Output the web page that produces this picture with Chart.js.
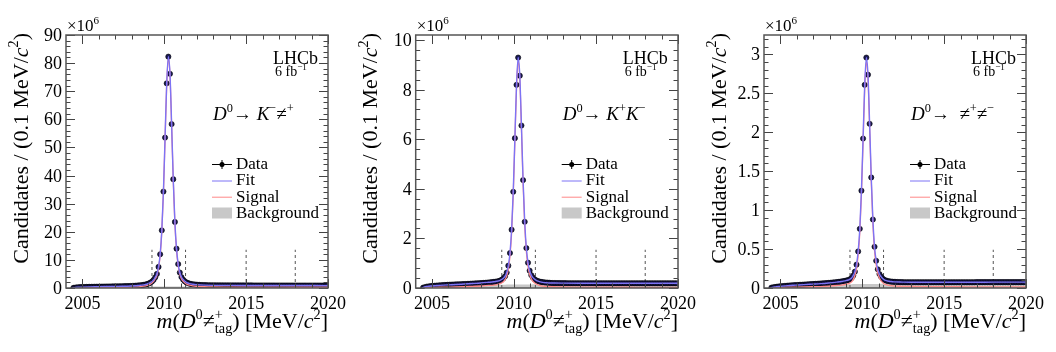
<!DOCTYPE html>
<html>
<head>
<meta charset="utf-8">
<script src="https://cdn.jsdelivr.net/npm/chart.js@4.4.1/dist/chart.umd.min.js"></script>
<style>
  body { margin: 0; background: #fff; width: 1056px; height: 352px; overflow: hidden; position: relative; }
  canvas { position: absolute; top: 0; }
</style>
</head>
<body>
<canvas id="c1" width="350" height="352" style="left:0px;width:350px;height:352px"></canvas>
<canvas id="c2" width="350" height="352" style="left:350px;width:350px;height:352px"></canvas>
<canvas id="c3" width="356" height="352" style="left:700px;width:356px;height:352px"></canvas>
<script>
// bins of 0.1 MeV, first centre at 2004.45
const binStart = 2004.45, binWidth = 0.1;
const xMin = 2004, xMax = 2020;
const xMajorTicks = [2005, 2010, 2015, 2020];
const dashX = [2009.25, 2011.3, 2015, 2018];
const legendLabels = ['Data', 'Fit', 'Signal', 'Background'];

// data points (x10^6 candidates per bin)
const dataKpi = [0.05,
  0.12,0.20,0.25,0.29,0.32,0.34,0.36,0.38,0.39,0.41,
  0.42,0.43,0.44,0.45,0.46,0.47,0.48,0.49,0.50,0.51,
  0.52,0.53,0.54,0.55,0.56,0.57,0.58,0.60,0.61,0.62,
  0.64,0.66,0.68,0.70,0.72,0.75,0.78,0.82,0.86,0.91,
  0.97,1.04,1.13,1.25,1.40,1.60,1.90,2.3,2.9,3.8,
  5.0,7.5,12.0,20.5,34.3,53.5,72.8,82.3,76.2,58.3,
  38.7,23.5,14.0,8.5,5.5,3.9,3.0,2.4,2.0,1.75,
  1.55,1.42,1.32,1.25,1.19,1.14,1.10,1.07,1.04,1.02,
  1.00,0.98,0.97,0.96,0.95,0.95,0.94,0.94,0.93,0.93,
  0.93,0.92,0.92,0.92,0.92,0.91,0.91,0.91,0.91,0.91,
  0.91,0.90,0.90,0.90,0.90,0.90,0.90,0.90,0.90,0.89,
  0.89,0.89,0.89,0.89,0.89,0.89,0.89,0.89,0.89,0.89,
  0.89,0.89,0.88,0.88,0.88,0.88,0.88,0.88,0.88,0.88,
  0.88,0.88,0.88,0.87,0.87,0.87,0.87,0.87,0.87,0.87,
  0.87,0.87,0.87,0.87,0.87,0.87,0.87,0.87,0.87,0.87,
  0.87,0.86,0.86,0.86,0.86];
const dataKK = [0.015,
  0.03,0.05,0.06,0.07,0.08,0.085,0.09,0.095,0.10,0.105,
  0.11,0.115,0.12,0.124,0.128,0.131,0.134,0.137,0.14,0.143,
  0.146,0.149,0.152,0.155,0.158,0.161,0.164,0.168,0.172,0.176,
  0.18,0.184,0.188,0.192,0.196,0.20,0.205,0.21,0.215,0.222,
  0.23,0.236,0.243,0.252,0.262,0.277,0.30,0.335,0.39,0.47,
  0.62,0.90,1.41,2.35,3.88,6.04,8.19,9.29,8.56,6.55,
  4.35,2.67,1.61,1.02,0.70,0.52,0.42,0.35,0.31,0.28,
  0.26,0.245,0.235,0.225,0.22,0.215,0.21,0.205,0.20,0.20,
  0.198,0.197,0.196,0.195,0.194,0.193,0.193,0.192,0.192,0.192,
  0.191,0.191,0.191,0.191,0.191,0.191,0.191,0.191,0.191,0.191,
  0.191,0.191,0.191,0.190,0.190,0.190,0.190,0.190,0.190,0.190,
  0.190,0.190,0.190,0.190,0.190,0.190,0.190,0.190,0.190,0.190,
  0.190,0.190,0.190,0.190,0.190,0.190,0.190,0.190,0.190,0.190,
  0.190,0.190,0.190,0.190,0.190,0.190,0.190,0.190,0.190,0.190,
  0.190,0.190,0.190,0.190,0.190,0.190,0.190,0.190,0.190,0.190,
  0.190,0.190,0.190,0.190,0.190];
const dataPiPi = [0.004,
  0.008,0.012,0.015,0.018,0.020,0.022,0.024,0.026,0.028,0.030,
  0.031,0.033,0.034,0.036,0.037,0.038,0.040,0.041,0.042,0.044,
  0.045,0.046,0.048,0.049,0.050,0.052,0.053,0.054,0.056,0.057,
  0.059,0.060,0.062,0.063,0.065,0.067,0.069,0.071,0.073,0.076,
  0.078,0.081,0.084,0.088,0.092,0.097,0.103,0.112,0.128,0.16,
  0.21,0.30,0.47,0.76,1.25,1.92,2.61,2.96,2.74,2.11,
  1.42,0.88,0.53,0.35,0.24,0.18,0.145,0.12,0.105,0.096,
  0.090,0.086,0.083,0.081,0.079,0.078,0.077,0.076,0.075,0.075,
  0.074,0.074,0.074,0.074,0.074,0.074,0.074,0.074,0.074,0.074,
  0.074,0.074,0.074,0.074,0.074,0.074,0.074,0.074,0.074,0.074,
  0.074,0.074,0.074,0.074,0.074,0.074,0.074,0.074,0.074,0.074,
  0.074,0.074,0.074,0.074,0.074,0.074,0.074,0.074,0.074,0.074,
  0.074,0.074,0.074,0.074,0.075,0.075,0.075,0.075,0.075,0.075,
  0.075,0.075,0.075,0.075,0.075,0.075,0.075,0.075,0.075,0.075,
  0.075,0.075,0.075,0.075,0.075,0.075,0.075,0.075,0.075,0.075,
  0.075,0.075,0.075,0.075,0.075];

// fit components, sampled at these masses
const curveX = [2004.4,2004.5,2004.7,2004.95,2005.45,2005.95,2006.45,2006.95,2007.45,2007.95,
  2008.45,2008.75,2008.95,2009.15,2009.35,2009.45,2009.55,2009.65,2009.75,2009.85,
  2009.95,2010.05,2010.15,2010.25,2010.35,2010.45,2010.55,2010.65,2010.75,2010.85,
  2010.95,2011.05,2011.15,2011.35,2011.55,2011.75,2011.95,2012.45,2012.95,2014,
  2015,2016,2017,2018,2019,2020];

const fitKpi = [0,0.12,0.25,0.32,0.41,0.46,0.51,0.56,0.62,0.72,
  0.91,1.13,1.40,1.90,2.9,3.8,5.0,7.5,12.0,20.5,
  34.3,53.5,72.8,82.3,76.2,58.3,38.7,23.5,14.0,8.5,
  5.5,3.9,3.0,2.0,1.55,1.32,1.19,1.02,0.95,0.92,
  0.90,0.89,0.88,0.87,0.87,0.86];
const bkgKpi = [0,0.08,0.17,0.22,0.30,0.35,0.39,0.42,0.45,0.47,
  0.49,0.50,0.51,0.52,0.52,0.53,0.53,0.53,0.53,0.54,
  0.54,0.54,0.54,0.54,0.55,0.55,0.55,0.55,0.55,0.55,
  0.55,0.56,0.56,0.56,0.56,0.56,0.57,0.57,0.58,0.58,
  0.59,0.59,0.60,0.60,0.60,0.60];
const sigKpi = [0,0.04,0.08,0.10,0.11,0.11,0.12,0.14,0.17,0.25,
  0.42,0.63,0.89,1.38,2.38,3.27,4.47,6.97,11.47,19.96,
  33.76,52.96,72.26,81.76,75.65,57.75,38.15,22.95,13.45,7.95,
  4.95,3.34,2.44,1.44,0.99,0.76,0.62,0.45,0.37,0.34,
  0.31,0.30,0.28,0.27,0.27,0.26];

const fitKK = [0,0.03,0.06,0.08,0.105,0.125,0.14,0.16,0.18,0.20,
  0.23,0.25,0.27,0.31,0.39,0.47,0.62,0.90,1.41,2.35,
  3.88,6.04,8.19,9.29,8.56,6.55,4.35,2.67,1.61,1.02,
  0.70,0.52,0.42,0.31,0.26,0.225,0.21,0.20,0.196,0.192,
  0.191,0.19,0.19,0.19,0.19,0.19];
const bkgKK = [0,0.02,0.04,0.055,0.075,0.09,0.10,0.11,0.115,0.12,
  0.125,0.13,0.13,0.135,0.135,0.135,0.14,0.14,0.14,0.14,
  0.14,0.14,0.14,0.14,0.14,0.145,0.145,0.145,0.145,0.145,
  0.145,0.145,0.15,0.15,0.15,0.15,0.15,0.15,0.155,0.155,
  0.16,0.16,0.16,0.165,0.165,0.165];
const sigKK = [0,0.01,0.02,0.025,0.03,0.035,0.04,0.05,0.065,0.08,
  0.105,0.12,0.14,0.175,0.255,0.335,0.48,0.76,1.27,2.21,
  3.74,5.90,8.05,9.15,8.42,6.405,4.205,2.525,1.465,0.875,
  0.555,0.375,0.27,0.16,0.11,0.075,0.06,0.05,0.041,0.037,
  0.031,0.03,0.03,0.025,0.025,0.025];

const fitPiPi = [0,0.008,0.015,0.02,0.03,0.037,0.044,0.05,0.056,0.065,
  0.076,0.084,0.092,0.103,0.128,0.16,0.21,0.30,0.47,0.76,
  1.25,1.92,2.61,2.96,2.74,2.11,1.42,0.88,0.53,0.35,
  0.24,0.18,0.145,0.105,0.09,0.083,0.079,0.076,0.074,0.074,
  0.074,0.074,0.074,0.075,0.075,0.075];
const bkgPiPi = [0,0.005,0.01,0.014,0.02,0.025,0.03,0.034,0.038,0.041,
  0.044,0.046,0.047,0.048,0.049,0.05,0.05,0.05,0.05,0.05,
  0.051,0.051,0.051,0.051,0.051,0.051,0.052,0.052,0.052,0.052,
  0.052,0.052,0.053,0.053,0.053,0.053,0.054,0.054,0.055,0.056,
  0.057,0.058,0.059,0.06,0.061,0.062];
const sigPiPi = [0,0.003,0.005,0.006,0.01,0.012,0.014,0.016,0.018,0.024,
  0.032,0.038,0.045,0.055,0.079,0.11,0.16,0.25,0.42,0.71,
  1.199,1.869,2.559,2.909,2.689,2.059,1.368,0.828,0.478,0.298,
  0.188,0.128,0.092,0.052,0.037,0.03,0.025,0.022,0.019,0.018,
  0.017,0.016,0.015,0.015,0.014,0.013];

const FONT = '"Liberation Serif", "Times New Roman", serif';
const FIT_COL = 'rgb(125,115,245)';
const SIG_COL = 'rgb(255,135,135)';
const BKG_COL = 'rgb(200,200,200)';
const MARK_COL = '#1b1b55';

// text with italic / super / subscript pieces: flags i=italic u=up d=down k=no advance
function rich(ctx, segs, x, y, size, align) {
  const items = segs.map(([t, f = '']) => {
    const small = f.includes('u') || f.includes('d');
    const fs = small ? size * 0.65 : size;
    const font = (f.includes('i') ? 'italic ' : '') + fs + 'px ' + FONT;
    ctx.font = font;
    const w = ctx.measureText(t).width;
    const dy = f.includes('u') ? -size * 0.42 : (f.includes('d') ? size * 0.22 : 0);
    return { t, font, dy, adv: f.includes('k') ? 0 : w };
  });
  const total = items.reduce((s, it) => s + it.adv, 0);
  let cx = align === 'right' ? x - total : x;
  ctx.textAlign = 'left';
  ctx.textBaseline = 'alphabetic';
  items.forEach(it => {
    ctx.font = it.font;
    ctx.fillText(it.t, cx, y + it.dy);
    cx += it.adv;
  });
}

const xTitle = [['m','i'],['('],['D','i'],['0','u'],['≠'],['+','uk'],['tag','d'],[') [MeV/'],['c','i'],['2','u'],[']']];
const yTitle = [['Candidates / (0.1 MeV/'],['c','i'],['2','u'],[')']];

const frameRules = {
  id: 'frameRules',
  afterDraw(chart, args, o) {
    const { ctx, chartArea: a, scales: { x, y } } = chart;
    ctx.save();

    // ticks on all four sides
    ctx.strokeStyle = '#444';
    ctx.lineWidth = 1;
    ctx.beginPath();
    for (let v = 2005; v <= 2020; v++) {
      const px = Math.round(x.getPixelForValue(v)) + 0.5;
      const len = v % 5 === 0 ? 9 : 4.5;
      ctx.moveTo(px, a.bottom); ctx.lineTo(px, a.bottom - len);
      ctx.moveTo(px, a.top); ctx.lineTo(px, a.top + len);
    }
    const per = Math.round(o.yMajor / o.yMinor);
    for (let k = 0; k * o.yMinor <= y.max + 1e-9; k++) {
      const py = Math.round(y.getPixelForValue(k * o.yMinor)) + 0.5;
      const len = k % per === 0 ? 9 : 4.5;
      ctx.moveTo(a.left, py); ctx.lineTo(a.left + len, py);
      ctx.moveTo(a.right, py); ctx.lineTo(a.right - len, py);
    }
    ctx.stroke();

    ctx.strokeStyle = '#555';
    ctx.lineWidth = 1.5;
    ctx.strokeRect(a.left, a.top, a.right - a.left, a.bottom - a.top);

    // tick labels
    ctx.fillStyle = '#000';
    ctx.font = '18px ' + FONT;
    ctx.textAlign = 'center';
    xMajorTicks.forEach(v => ctx.fillText(String(v), x.getPixelForValue(v), a.bottom + 21));
    ctx.textAlign = 'right';
    for (let k = 0; k * o.yMajor <= y.max + 1e-9; k++) {
      const v = k * o.yMajor;
      ctx.fillText(String(+v.toFixed(2)), a.left - 4, y.getPixelForValue(v) + 6);
    }

    // axis titles and labels
    rich(ctx, xTitle, a.right, 328, 22, 'right');
    ctx.save();
    ctx.translate(a.left - 38.5, 33);
    ctx.rotate(-Math.PI / 2);
    rich(ctx, yTitle, 0, 0, 22, 'right');
    ctx.restore();
    rich(ctx, [['×10'], ['6', 'u']], a.left + 1, 31, 17);
    rich(ctx, [['LHCb']], a.left + 207, 63.5, 18);
    rich(ctx, [['6 fb'], ['−1', 'u']], a.left + 209, 75.5, 14);
    rich(ctx, o.decay, a.left + 147, 120, 19);

    // legend
    const sx0 = a.left + 146, sx1 = a.left + 166, tx = a.left + 170;
    const rows = [164, 180.5, 196.7, 213];
    ctx.lineWidth = 1;
    ctx.strokeStyle = '#000';
    ctx.beginPath();
    ctx.moveTo(sx0, rows[0] + 0.5); ctx.lineTo(sx1, rows[0] + 0.5);
    ctx.moveTo((sx0 + sx1) / 2, rows[0] - 4); ctx.lineTo((sx0 + sx1) / 2, rows[0] + 5);
    ctx.stroke();
    ctx.fillStyle = '#000';
    ctx.beginPath();
    ctx.arc((sx0 + sx1) / 2, rows[0] + 0.5, 2.5, 0, Math.PI * 2);
    ctx.fill();
    ctx.strokeStyle = FIT_COL;
    ctx.beginPath(); ctx.moveTo(sx0, rows[1] + 0.5); ctx.lineTo(sx1, rows[1] + 0.5); ctx.stroke();
    ctx.strokeStyle = SIG_COL;
    ctx.beginPath(); ctx.moveTo(sx0, rows[2] + 0.5); ctx.lineTo(sx1, rows[2] + 0.5); ctx.stroke();
    ctx.fillStyle = BKG_COL;
    ctx.fillRect(sx0, rows[3] - 5.5, sx1 - sx0, 11);
    ctx.fillStyle = '#000';
    legendLabels.forEach((lab, i) => rich(ctx, [[lab]], tx, rows[i] + 4.8, 17));

    ctx.restore();
  }
};

function makePanel(p) {
  const points = p.values.map((v, i) => ({ x: +(binStart + i * binWidth).toFixed(2), y: v }));
  const curve = arr => curveX.map((x, i) => ({ x: x, y: arr[i] }));
  const dashes = dashX.map(x => ({
    data: [{ x: x, y: 0 }, { x: x, y: p.dashTop }],
    borderColor: '#555', borderWidth: 1, borderDash: [3, 3],
    pointRadius: 0, order: 4
  }));
  new Chart(document.getElementById(p.id), {
    type: 'line',
    data: {
      datasets: [
        { label: 'Background', data: curve(p.bkg), fill: 'origin', backgroundColor: BKG_COL,
          borderWidth: 0, pointRadius: 0, order: 5 },
        ...dashes,
        { label: 'Data', data: points, showLine: false, pointRadius: 2.6,
          pointBackgroundColor: MARK_COL, pointBorderColor: '#000', pointBorderWidth: 0.6, order: 3 },
        { label: 'Signal', data: curve(p.sig), borderColor: SIG_COL, borderWidth: 1.3,
          pointRadius: 0, cubicInterpolationMode: 'monotone', order: 2 },
        { label: 'Fit', data: curve(p.fit), borderColor: FIT_COL, borderWidth: 1.4,
          pointRadius: 0, cubicInterpolationMode: 'monotone', order: 1 }
      ]
    },
    options: {
      responsive: false,
      animation: false,
      devicePixelRatio: 1,
      events: [],
      layout: { padding: { left: p.left, right: p.right, top: 35, bottom: 64 } },
      plugins: {
        legend: { display: false },
        tooltip: { enabled: false },
        frameRules: { yMajor: p.yMajor, yMinor: p.yMinor, decay: p.decay }
      },
      scales: {
        x: { type: 'linear', min: xMin, max: xMax, display: false },
        y: { type: 'linear', min: 0, max: p.yMax, display: false }
      }
    },
    plugins: [frameRules]
  });
}

function drawAll() {
  makePanel({ id: 'c1', left: 66, right: 22, values: dataKpi, fit: fitKpi, sig: sigKpi, bkg: bkgKpi,
    yMax: 90, yMajor: 10, yMinor: 2, dashTop: 13.6,
    decay: [['D','i'],['0','u'],['→ '],['K','i'],['−','u'],['≠'],['+','u']] });
  makePanel({ id: 'c2', left: 65.7, right: 22, values: dataKK, fit: fitKK, sig: sigKK, bkg: bkgKK,
    yMax: 10.2, yMajor: 2, yMinor: 0.4, dashTop: 1.54,
    decay: [['D','i'],['0','u'],['→ '],['K','i'],['+','u'],['K','i'],['−','u']] });
  makePanel({ id: 'c3', left: 64, right: 30, values: dataPiPi, fit: fitPiPi, sig: sigPiPi, bkg: bkgPiPi,
    yMax: 3.25, yMajor: 0.5, yMinor: 0.1, dashTop: 0.49,
    decay: [['D','i'],['0','u'],['→  '],['≠'],['+','u'],['≠'],['−','u']] });
}

Promise.all([
  document.fonts.load('18px "Liberation Serif"'),
  document.fonts.load('italic 18px "Liberation Serif"')
]).then(drawAll, drawAll);
</script>
</body>
</html>
